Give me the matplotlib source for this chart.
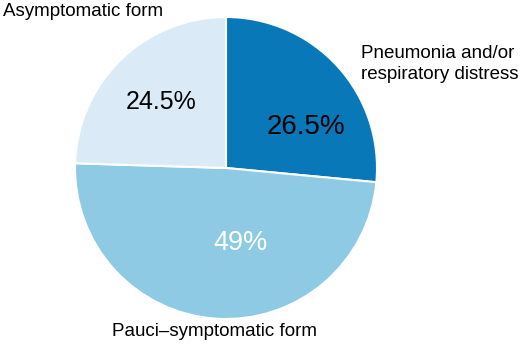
import matplotlib.pyplot as plt

# slice data, clockwise from 12 o'clock
labels = ["Pneumonia and/or\nrespiratory distress", "Pauci\u2013symptomatic form", "Asymptomatic form"]
shares = [26.5, 49.0, 24.5]
pct_text = ["26.5%", "49%", "24.5%"]
colors = ["#0878b9", "#8ecae4", "#daebf7"]
pct_colors = ["black", "white", "black"]

W, H = 526, 344
plt.rcParams["font.family"] = ["Liberation Sans", "DejaVu Sans"]

fig = plt.figure(figsize=(W / 100, H / 100), dpi=100)
ax = fig.add_axes([0, 0, 1, 1])

cx, cy, r = 226, H - 168, 151
wedges, _ = ax.pie(shares, colors=colors, startangle=90, counterclock=False,
                   center=(cx, cy), radius=r, frame=True,
                   wedgeprops=dict(edgecolor="white", linewidth=1.5))
ax.set_xlim(0, W)
ax.set_ylim(0, H)
ax.axis("off")

# percent labels (pixel positions from top-left)
pct_pos = [(306, 127), (240, 243), (161, 102)]
pct_size = [20, 19.5, 18]
for (px, py), t, c, s in zip(pct_pos, pct_text, pct_colors, pct_size):
    ax.text(px, H - py, t, color=c, fontsize=s, ha="center", va="center")

# category labels
ax.text(361, H - 64, labels[0], fontsize=13.5, ha="left", va="center", linespacing=1.25)
ax.text(214, H - 331, labels[1], fontsize=13.5, ha="center", va="center")
ax.text(3, H - 11, labels[2], fontsize=13.5, ha="left", va="center")

fig.savefig("out.png", dpi=100)
